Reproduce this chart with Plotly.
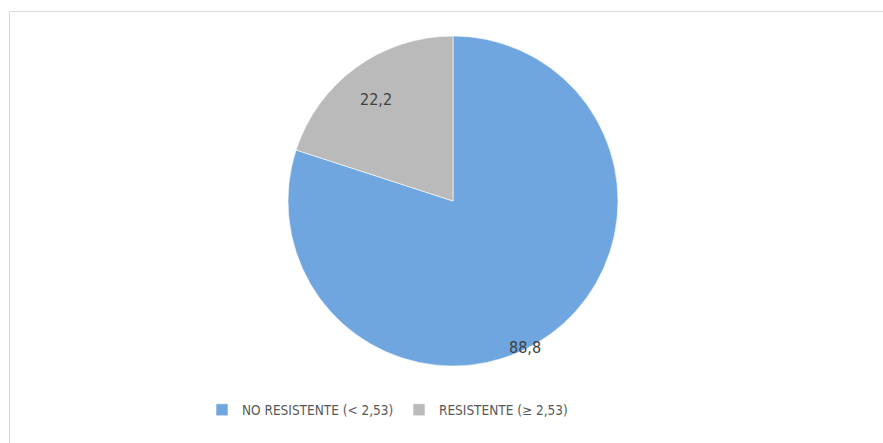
import math
import plotly.graph_objects as go

# Data
categories = ["NO RESISTENTE (< 2,53)", "RESISTENTE (\u2265 2,53)"]
values = [88.8, 22.2]
label_text = ["88,8", "22,2"]

# Styling
colors = ["#6fa6df", "#bababa"]
label_radius = [1.0, 0.79]      # fraction of the pie radius
label_angle_shift = [10, 0]     # degrees, clockwise
label_yshift = [-10, 8]         # px
FONT = "Liberation Sans Narrow, DejaVu Sans Condensed, Open Sans"

W, H = 883, 443
cx_px, cy_px, r_px = 453, 201, 165

fig = go.Figure(
    go.Pie(
        labels=categories,
        values=values,
        sort=False,
        direction="clockwise",
        rotation=0,
        marker=dict(colors=colors, line=dict(color="#ffffff", width=0.6)),
        textinfo="none",
        hoverinfo="label+value",
        domain=dict(
            x=[(cx_px - r_px) / W, (cx_px + r_px) / W],
            y=[1 - (cy_px + r_px) / H, 1 - (cy_px - r_px) / H],
        ),
    )
)

# Value labels placed along each slice's bisector
total = sum(values)
start = 0.0
annotations = []
for i, v in enumerate(values):
    span = 360.0 * v / total
    mid = math.radians(start + span / 2 + label_angle_shift[i])
    start += span
    x_px = cx_px + label_radius[i] * r_px * math.sin(mid)
    y_px = cy_px - label_radius[i] * r_px * math.cos(mid)
    annotations.append(
        dict(
            x=x_px / W, y=1 - y_px / H, xref="paper", yref="paper",
            text=label_text[i], showarrow=False, yshift=label_yshift[i],
            font=dict(size=16, color="#404040", family=FONT),
        )
    )

fig.update_layout(
    width=W,
    height=H,
    margin=dict(l=0, r=0, t=0, b=0),
    paper_bgcolor="#ffffff",
    plot_bgcolor="#ffffff",
    showlegend=True,
    legend=dict(
        orientation="h",
        x=202 / W, xanchor="left",
        y=1 - 410 / H, yanchor="middle",
        font=dict(size=13.5, color="#595959", family=FONT),
        itemwidth=30,
        entrywidth=152,
        entrywidthmode="pixels",
        traceorder="normal",
    ),
    annotations=annotations,
    shapes=[
        dict(type="line", xref="paper", yref="paper",
             x0=9.5 / W, x1=1, y0=1 - 11.5 / H, y1=1 - 11.5 / H,
             line=dict(color="#d9d9d9", width=1)),
        dict(type="line", xref="paper", yref="paper",
             x0=9.5 / W, x1=9.5 / W, y0=0, y1=1 - 11.5 / H,
             line=dict(color="#d9d9d9", width=1)),
    ],
)

fig.write_html("out.html")
